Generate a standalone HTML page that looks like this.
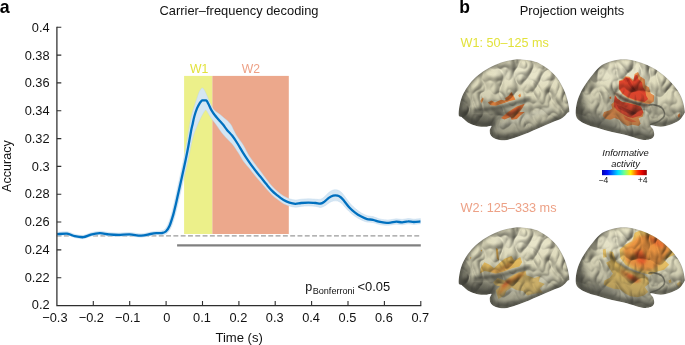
<!DOCTYPE html>
<html><head><meta charset="utf-8"><title>Carrier-frequency decoding</title>
<style>
html,body{margin:0;padding:0;background:#fff;}
svg{display:block;}
text{font-family:"Liberation Sans",Arial,Helvetica,sans-serif;fill:#121212;}
</style></head><body>
<svg width="685" height="345" viewBox="0 0 685 345">
<rect width="685" height="345" fill="#fff"/>

<defs>
<linearGradient id="jet" x1="0" x2="1" y1="0" y2="0">
<stop offset="0" stop-color="#0000b0"/><stop offset="0.12" stop-color="#0010ff"/><stop offset="0.36" stop-color="#00e0ff"/>
<stop offset="0.5" stop-color="#70ff90"/><stop offset="0.64" stop-color="#fff000"/><stop offset="0.8" stop-color="#ff3000"/>
<stop offset="0.9" stop-color="#e00000"/><stop offset="1" stop-color="#900000"/>
</linearGradient>
<filter id="b1" x="-20%" y="-20%" width="140%" height="140%"><feGaussianBlur stdDeviation="0.6"/></filter>
<filter id="b1s" x="-20%" y="-20%" width="140%" height="140%"><feGaussianBlur stdDeviation="1"/></filter>
<filter id="b2" x="-20%" y="-20%" width="140%" height="140%"><feGaussianBlur stdDeviation="1.5"/></filter>
<filter id="b3" x="-30%" y="-30%" width="160%" height="160%"><feGaussianBlur stdDeviation="3"/></filter>
<filter id="b5" x="-30%" y="-30%" width="160%" height="160%"><feGaussianBlur stdDeviation="5"/></filter>
<radialGradient id="gL" cx="0.52" cy="0.36" r="0.66" fx="0.55" fy="0.25">
<stop offset="0" stop-color="#d3d2bf"/><stop offset="0.5" stop-color="#c3c2af"/><stop offset="0.8" stop-color="#a9a897"/><stop offset="1" stop-color="#85857a"/>
</radialGradient>
<filter id="bump1" x="0" y="0" width="100%" height="100%" color-interpolation-filters="sRGB">
 <feTurbulence type="turbulence" baseFrequency="0.06 0.043" numOctaves="2" seed="2" result="n"/>
 <feGaussianBlur in="n" stdDeviation="0.7" result="rb"/>
 <feDiffuseLighting in="rb" surfaceScale="3.8" diffuseConstant="1.04" lighting-color="#ffffff" result="lit"><feDistantLight azimuth="245" elevation="62"/></feDiffuseLighting>
 <feComposite in="lit" in2="SourceGraphic" operator="in"/>
</filter>
<filter id="bump2" x="0" y="0" width="100%" height="100%" color-interpolation-filters="sRGB">
 <feTurbulence type="turbulence" baseFrequency="0.06 0.043" numOctaves="2" seed="9" result="n"/>
 <feGaussianBlur in="n" stdDeviation="0.7" result="rb"/>
 <feDiffuseLighting in="rb" surfaceScale="3.8" diffuseConstant="1.04" lighting-color="#ffffff" result="lit"><feDistantLight azimuth="245" elevation="62"/></feDiffuseLighting>
 <feComposite in="lit" in2="SourceGraphic" operator="in"/>
</filter>
<linearGradient id="gS" x1="0.62" y1="0" x2="0.4" y2="1">
<stop offset="0" stop-color="#4a4a44" stop-opacity="0"/><stop offset="0.4" stop-color="#4a4a44" stop-opacity="0.06"/><stop offset="0.72" stop-color="#4a4a44" stop-opacity="0.26"/><stop offset="1" stop-color="#3a3a34" stop-opacity="0.55"/>
</linearGradient>
<filter id="texD" x="0" y="0" width="100%" height="100%">
<feTurbulence type="fractalNoise" baseFrequency="0.11 0.08" numOctaves="2" seed="7" result="n"/>
<feColorMatrix in="n" type="matrix" values="0 0 0 0 0.36  0 0 0 0 0.36  0 0 0 0 0.31  -4.5 0 0 0 2.1"/>
<feGaussianBlur stdDeviation="0.5"/>
</filter>
<filter id="texL" x="0" y="0" width="100%" height="100%">
<feTurbulence type="fractalNoise" baseFrequency="0.11 0.08" numOctaves="2" seed="7" result="n"/>
<feColorMatrix in="n" type="matrix" values="0 0 0 0 0.90  0 0 0 0 0.89  0 0 0 0 0.80  4.5 0 0 0 -2.35"/>
<feGaussianBlur stdDeviation="0.5"/>
</filter>
</defs>

<g id="panel-a">
<rect x="184.1" y="75.9" width="28.4" height="158.1" fill="#ecf08a"/>
<rect x="212.4" y="75.9" width="76.4" height="158.1" fill="#eca88c"/>
<line x1="56.6" y1="235.9" x2="419.6" y2="235.9" stroke="#9a9a9a" stroke-width="1.4" stroke-dasharray="4.9 2.4"/>
<line x1="177.1" y1="245.4" x2="420.8" y2="245.4" stroke="#808080" stroke-width="2.2"/>
<path d="M57.2,232.3C58.9,232.2 64.2,231.4 67.1,231.7C70.0,232.0 72.0,233.6 74.7,234.2C77.4,234.8 80.5,235.5 83.2,235.3C85.9,235.1 88.0,233.5 90.8,232.8C93.5,232.1 96.7,231.4 99.7,231.3C102.7,231.2 105.7,232.2 108.8,232.5C111.9,232.8 114.8,233.0 118.3,233.0C121.8,233.0 125.9,232.4 129.7,232.5C133.5,232.6 137.6,233.9 141.1,233.8C144.6,233.7 148.1,232.5 150.6,232.1C153.1,231.7 154.6,231.5 156.3,231.3C158.0,231.1 159.6,231.2 161.0,230.9C162.4,230.6 163.6,230.5 164.8,229.3C166.0,228.1 167.2,226.2 168.3,223.5C169.4,220.8 170.6,217.0 171.6,213.4C172.6,209.8 173.4,205.9 174.4,201.8C175.4,197.7 176.4,193.0 177.3,188.7C178.2,184.3 179.2,180.0 180.1,175.7C181.0,171.3 182.0,166.9 182.9,162.6C183.8,158.2 184.7,153.7 185.5,149.6C186.3,145.5 186.9,141.6 187.5,138.0C188.1,134.4 188.7,130.8 189.2,128.0C189.7,125.2 189.9,123.5 190.4,121.0C190.9,118.5 191.5,115.7 192.3,112.8C193.1,109.9 194.1,106.9 195.2,103.6C196.3,100.3 197.8,95.5 198.7,93.1C199.6,90.7 200.2,90.2 200.8,89.3C201.4,88.4 201.7,88.0 202.2,87.9C202.7,87.9 203.1,88.4 203.6,89.0C204.1,89.6 204.5,90.1 205.1,91.4C205.7,92.7 206.5,94.6 207.4,96.6C208.3,98.6 209.3,101.6 210.3,103.6C211.3,105.6 212.2,107.4 213.2,108.8C214.2,110.2 214.9,110.7 216.1,111.7C217.2,112.7 218.6,113.4 220.1,114.6C221.6,115.8 223.2,117.2 224.8,118.6C226.4,119.9 228.3,121.5 229.4,122.7C230.5,123.9 230.4,123.6 231.5,125.6C232.6,127.5 234.0,131.2 235.9,134.4C237.8,137.6 241.0,141.4 243.2,144.9C245.4,148.4 247.0,152.5 249.0,155.7C251.0,158.8 253.1,161.4 255.0,164.0C256.9,166.6 258.6,168.7 260.5,171.2C262.4,173.7 264.4,176.6 266.3,179.0C268.2,181.5 270.0,183.9 271.9,186.0C273.8,188.1 275.8,189.8 277.7,191.5C279.6,193.2 281.7,194.9 283.6,196.1C285.6,197.3 287.4,198.1 289.4,198.8C291.3,199.4 293.4,199.9 295.3,200.0C297.2,200.1 298.9,199.4 301.1,199.2C303.3,199.0 306.0,198.8 308.4,198.8C310.8,198.8 313.6,199.1 315.7,199.2C317.8,199.3 319.3,199.6 320.8,199.2C322.3,198.8 323.2,197.8 324.5,196.7C325.8,195.5 327.4,193.6 328.8,192.5C330.2,191.4 331.7,190.4 333.2,190.0C334.7,189.6 336.2,189.6 337.6,190.0C339.0,190.4 340.3,191.3 341.5,192.4C342.7,193.5 343.3,194.5 344.8,196.5C346.3,198.4 348.7,201.9 350.6,204.0C352.5,206.1 354.2,207.6 356.0,209.1C357.8,210.6 359.4,211.8 361.3,212.9C363.2,214.0 365.2,215.0 367.1,215.7C369.1,216.3 371.1,216.1 373.0,216.6C374.9,217.1 376.9,218.1 378.8,218.7C380.7,219.2 382.7,219.6 384.6,219.8C386.6,220.0 388.6,219.9 390.5,219.7C392.4,219.6 394.4,218.9 396.3,218.8C398.2,218.8 400.2,219.5 402.2,219.4C404.1,219.4 406.1,218.6 408.0,218.6C409.9,218.5 411.7,219.2 413.8,219.2C415.9,219.2 419.3,218.7 420.4,218.6L420.4,223.8C419.3,223.9 415.9,224.4 413.8,224.4C411.7,224.4 409.9,223.8 408.0,223.8C406.1,223.9 404.1,224.7 402.2,224.8C400.2,224.8 398.2,224.1 396.3,224.2C394.4,224.2 392.4,224.9 390.5,225.1C388.6,225.3 386.6,225.3 384.6,225.2C382.7,225.1 380.7,224.8 378.8,224.3C376.9,223.9 374.9,222.9 373.0,222.6C371.1,222.2 369.1,222.6 367.1,222.1C365.2,221.7 363.4,220.9 361.3,219.9C359.2,218.9 356.7,217.6 354.6,216.1C352.5,214.6 350.6,212.9 348.6,211.0C346.6,209.1 344.2,206.0 342.8,204.5C341.4,203.1 341.4,203.1 340.5,202.5C339.6,201.9 338.8,201.3 337.6,201.0C336.4,200.8 334.6,200.7 333.2,201.0C331.8,201.3 330.7,201.9 329.3,202.7C327.9,203.5 326.4,205.0 325.0,205.8C323.6,206.6 322.4,207.3 320.8,207.4C319.2,207.5 317.8,206.6 315.7,206.4C313.6,206.2 310.8,206.0 308.4,206.0C306.0,206.0 303.3,206.2 301.1,206.4C298.9,206.6 297.2,207.3 295.3,207.2C293.4,207.1 291.3,206.6 289.4,206.0C287.4,205.4 285.6,204.8 283.6,203.7C281.7,202.6 279.6,201.0 277.7,199.5C275.8,198.0 273.9,196.6 272.0,194.9C270.1,193.1 268.4,191.1 266.5,189.0C264.6,186.9 262.8,184.6 260.9,182.4C259.0,180.3 257.2,178.2 255.3,175.9C253.4,173.7 251.6,171.0 249.7,168.7C247.8,166.4 245.9,164.6 244.0,162.0C242.1,159.4 240.3,155.8 238.5,153.0C236.7,150.2 234.7,147.0 233.0,144.9C231.3,142.8 230.3,142.1 228.6,140.3C226.9,138.5 224.4,136.1 222.8,134.1C221.2,132.1 220.0,130.3 218.8,128.6C217.6,126.9 216.6,125.4 215.5,123.8C214.4,122.2 213.2,120.8 212.0,119.2C210.8,117.6 209.4,115.3 208.6,114.0C207.8,112.7 207.5,112.0 207.0,111.3C206.5,110.6 206.1,109.9 205.7,109.9C205.3,109.9 205.0,110.5 204.4,111.4C203.8,112.3 203.0,113.5 202.2,115.1C201.3,116.7 200.1,119.2 199.3,120.9C198.5,122.6 198.4,122.8 197.5,125.0C196.6,127.2 194.9,131.2 194.0,134.0C193.1,136.8 192.6,138.7 191.8,142.0C191.0,145.3 190.3,149.5 189.4,153.6C188.5,157.7 187.5,162.2 186.5,166.6C185.5,170.9 184.5,175.3 183.5,179.7C182.5,184.0 181.5,188.3 180.5,192.7C179.5,197.0 178.5,201.7 177.5,205.8C176.5,209.9 175.6,213.8 174.5,217.4C173.4,221.0 172.2,224.9 171.0,227.5C169.8,230.1 168.4,232.0 167.0,233.2C165.6,234.4 164.4,234.4 162.6,234.7C160.8,234.9 158.3,234.6 156.3,234.7C154.3,234.8 153.1,235.1 150.6,235.5C148.1,235.9 144.6,237.1 141.1,237.2C137.6,237.3 133.5,236.0 129.7,235.9C125.9,235.8 121.8,236.4 118.3,236.4C114.8,236.4 111.9,236.2 108.8,235.9C105.7,235.6 102.7,234.6 99.7,234.7C96.7,234.8 93.5,235.5 90.8,236.2C88.0,236.9 85.9,238.5 83.2,238.7C80.5,238.9 77.4,238.2 74.7,237.6C72.0,237.0 70.0,235.4 67.1,235.1C64.2,234.8 58.9,235.6 57.2,235.7Z" fill="#d5e6f3" stroke="#b9d4ea" stroke-width="0.4"/>
<path d="M57.2,234.0C58.9,233.9 64.2,233.1 67.1,233.4C70.0,233.7 72.0,235.3 74.7,235.9C77.4,236.5 80.5,237.2 83.2,237.0C85.9,236.8 88.0,235.2 90.8,234.5C93.5,233.8 96.7,233.1 99.7,233.0C102.7,232.9 105.7,233.9 108.8,234.2C111.9,234.5 114.8,234.7 118.3,234.7C121.8,234.7 125.9,234.1 129.7,234.2C133.5,234.3 137.6,235.6 141.1,235.5C144.6,235.4 148.1,234.2 150.6,233.8C153.1,233.4 154.5,233.2 156.3,233.0C158.1,232.8 160.0,233.2 161.6,232.9C163.2,232.6 164.5,232.5 165.8,231.3C167.1,230.1 168.4,228.2 169.6,225.5C170.8,222.8 171.9,219.0 173.0,215.4C174.1,211.8 174.9,207.9 175.9,203.8C176.9,199.7 177.8,195.0 178.8,190.7C179.8,186.3 180.7,182.0 181.7,177.7C182.7,173.3 183.7,168.9 184.6,164.6C185.5,160.2 186.5,155.7 187.3,151.6C188.1,147.5 188.8,143.6 189.4,140.0C190.1,136.4 190.7,132.7 191.2,130.0C191.7,127.3 192.1,126.3 192.6,124.0C193.1,121.7 193.6,118.9 194.3,116.3C195.0,113.7 196.1,110.5 197.0,108.2C197.9,105.9 199.1,103.9 199.9,102.6C200.7,101.3 201.2,101.0 201.6,100.6C202.0,100.2 201.9,100.3 202.6,100.2C203.3,100.1 205.1,100.1 205.8,100.2C206.5,100.3 206.3,100.2 206.8,100.8C207.3,101.4 207.8,102.6 208.6,104.1C209.4,105.6 210.3,108.1 211.4,109.9C212.5,111.7 213.6,113.4 214.9,115.1C216.2,116.8 217.7,118.2 219.0,119.8C220.3,121.3 221.6,122.7 223.0,124.4C224.4,126.1 225.6,128.1 227.2,130.0C228.8,131.9 230.6,133.4 232.3,135.6C234.0,137.8 235.7,140.4 237.5,143.3C239.3,146.2 241.5,150.1 243.4,153.2C245.3,156.3 247.3,159.2 249.2,162.0C251.1,164.8 253.1,167.4 255.0,169.8C256.9,172.2 258.6,174.2 260.5,176.6C262.4,178.9 264.4,181.6 266.3,183.9C268.2,186.2 270.0,188.5 271.9,190.4C273.8,192.3 275.8,193.9 277.7,195.5C279.6,197.1 281.7,198.8 283.6,199.9C285.6,201.1 287.4,201.8 289.4,202.4C291.3,203.0 293.4,203.5 295.3,203.6C297.2,203.7 298.9,203.0 301.1,202.8C303.3,202.6 306.0,202.4 308.4,202.4C310.8,202.4 313.6,202.7 315.7,202.8C317.8,203.0 319.3,203.5 320.8,203.3C322.3,203.1 323.2,202.3 324.5,201.4C325.8,200.5 327.4,198.7 328.8,197.7C330.2,196.7 331.7,195.9 333.2,195.5C334.7,195.1 336.3,195.2 337.6,195.5C338.9,195.8 340.0,196.5 341.0,197.3C342.0,198.1 342.4,198.6 343.8,200.3C345.2,202.0 347.7,205.5 349.6,207.6C351.5,209.7 353.4,211.2 355.4,212.7C357.3,214.2 359.4,215.4 361.3,216.4C363.2,217.4 365.2,218.4 367.1,218.9C369.1,219.4 371.1,219.2 373.0,219.6C374.9,220.0 376.9,221.0 378.8,221.5C380.7,222.0 382.7,222.3 384.6,222.5C386.6,222.7 388.6,222.6 390.5,222.4C392.4,222.2 394.4,221.6 396.3,221.5C398.2,221.4 400.2,222.2 402.2,222.1C404.1,222.0 406.1,221.2 408.0,221.2C409.9,221.1 411.7,221.8 413.8,221.8C415.9,221.8 419.3,221.3 420.4,221.2" fill="none" stroke="#0070bf" stroke-width="2.3" transform="translate(0,0.2)" stroke-linejoin="round" stroke-linecap="butt"/>
<path d="M56.9,26.8 V305.5 H421.3" fill="none" stroke="#2e2e2e" stroke-width="1.25"/>
<path d="M56.9,27.3h4.4M56.9,55.1h4.4M56.9,82.9h4.4M56.9,110.8h4.4M56.9,138.6h4.4M56.9,166.4h4.4M56.9,194.2h4.4M56.9,222.0h4.4M56.9,249.9h4.4M56.9,277.7h4.4M93.3,305.5v-4.4M129.7,305.5v-4.4M166.1,305.5v-4.4M202.5,305.5v-4.4M238.9,305.5v-4.4M275.2,305.5v-4.4M311.6,305.5v-4.4M348.0,305.5v-4.4M384.4,305.5v-4.4M420.8,305.5v-4.4" fill="none" stroke="#2e2e2e" stroke-width="1.1"/>
<g font-size="12.8" text-anchor="end">
<text x="49.6" y="31.7">0.4</text>
<text x="49.6" y="59.5">0.38</text>
<text x="49.6" y="87.2">0.36</text>
<text x="49.6" y="115.0">0.34</text>
<text x="49.6" y="142.7">0.32</text>
<text x="49.6" y="170.5">0.3</text>
<text x="49.6" y="198.3">0.28</text>
<text x="49.6" y="226.0">0.26</text>
<text x="49.6" y="253.8">0.24</text>
<text x="49.6" y="281.5">0.22</text>
<text x="49.6" y="309.3">0.2</text>
</g>
<g font-size="12.8" text-anchor="middle">
<text x="54.9" y="321.9">−0.3</text>
<text x="91.3" y="321.9">−0.2</text>
<text x="127.7" y="321.9">−0.1</text>
<text x="166.7" y="321.9">0</text>
<text x="202.0" y="321.9">0.1</text>
<text x="238.4" y="321.9">0.2</text>
<text x="274.7" y="321.9">0.3</text>
<text x="311.1" y="321.9">0.4</text>
<text x="347.5" y="321.9">0.5</text>
<text x="383.9" y="321.9">0.6</text>
<text x="420.3" y="321.9">0.7</text>
</g>
<text x="239.15" y="341.5" font-size="13.1" text-anchor="middle">Time (s)</text>
<text transform="translate(10.8,166.1) rotate(-90)" font-size="12.6" text-anchor="middle">Accuracy</text>
<text x="239" y="14.8" font-size="12.9" text-anchor="middle">Carrier–frequency decoding</text>
<text x="-0.3" y="13.2" font-size="17.8" font-weight="bold" style="fill:#000">a</text>
<text x="199.2" y="72.8" font-size="12.2" text-anchor="middle" style="fill:#e2e23c">W1</text>
<text x="251.0" y="72.8" font-size="12.2" text-anchor="middle" style="fill:#eda186">W2</text>
<text x="305.3" y="291" font-size="12.6">p</text><text x="312.7" y="294.2" font-size="9.1">Bonferroni</text><text x="357.4" y="291" font-size="12.95">&lt;0.05</text>
</g>
<g id="panel-b">
<text x="459.2" y="13.2" font-size="17.5" font-weight="bold" style="fill:#000">b</text>
<text x="572" y="14.8" font-size="12.9" text-anchor="middle">Projection weights</text>
<text x="460.6" y="46.9" font-size="12.6" style="fill:#e2e23c">W1: 50–125 ms</text>
<text x="460.6" y="212.2" font-size="12.7" style="fill:#eda186">W2: 125–333 ms</text>
<rect x="602" y="170" width="44.8" height="5.2" fill="url(#jet)"/>
<text x="625.5" y="156.2" font-size="9.4" font-style="italic" text-anchor="middle">Informative</text>
<text x="625.5" y="167.2" font-size="9.4" font-style="italic" text-anchor="middle">activity</text>
<text x="598.6" y="182.9" font-size="8.6">−4</text>
<text x="647.5" y="182.9" font-size="8.6" text-anchor="end">+4</text>
<clipPath id="cp1"><path d="M458.7,114.9C458.4,112.7 459.1,107.6 459.9,104.0C460.7,100.5 461.8,96.9 463.4,93.5C465.0,90.2 467.0,87.0 469.5,83.9C472.0,80.8 475.1,77.8 478.3,75.1C481.5,72.5 485.0,70.3 488.8,68.1C492.6,66.0 497.0,63.8 501.0,62.4C505.1,61.0 509.8,60.2 513.3,59.7C516.8,59.2 519.1,59.2 522.1,59.4C525.0,59.5 527.9,59.9 530.8,60.6C533.7,61.3 536.6,62.0 539.6,63.4C542.5,64.8 545.4,66.6 548.3,69.0C551.2,71.4 554.5,74.3 557.1,77.8C559.7,81.3 562.3,86.2 564.1,90.0C565.8,93.8 566.7,97.0 567.6,100.5C568.5,104.0 569.3,109.0 569.3,111.0C569.3,113.1 568.8,111.6 567.6,112.8C566.4,113.9 565.0,116.4 562.3,118.0C559.7,119.6 555.6,120.8 551.8,122.4C548.0,124.0 543.9,125.8 539.6,127.7C535.2,129.6 529.9,132.0 525.6,133.8C521.2,135.5 516.8,137.1 513.3,138.2C509.8,139.2 507.5,140.1 504.5,140.3C501.6,140.4 498.1,139.8 495.8,139.0C493.5,138.2 491.9,137.0 490.9,135.5C489.9,134.1 489.6,131.9 489.7,130.3C489.7,128.7 492.1,126.5 491.4,125.9C490.7,125.3 487.8,126.8 485.3,126.8C482.8,126.8 479.4,126.6 476.5,125.9C473.6,125.2 470.2,123.9 467.8,122.4C465.3,120.9 463.2,118.4 461.6,117.1C460.1,115.9 458.9,117.1 458.7,114.9Z"/></clipPath>
<g clip-path="url(#cp1)" style="isolation:isolate">
<path d="M458.7,114.9C458.4,112.7 459.1,107.6 459.9,104.0C460.7,100.5 461.8,96.9 463.4,93.5C465.0,90.2 467.0,87.0 469.5,83.9C472.0,80.8 475.1,77.8 478.3,75.1C481.5,72.5 485.0,70.3 488.8,68.1C492.6,66.0 497.0,63.8 501.0,62.4C505.1,61.0 509.8,60.2 513.3,59.7C516.8,59.2 519.1,59.2 522.1,59.4C525.0,59.5 527.9,59.9 530.8,60.6C533.7,61.3 536.6,62.0 539.6,63.4C542.5,64.8 545.4,66.6 548.3,69.0C551.2,71.4 554.5,74.3 557.1,77.8C559.7,81.3 562.3,86.2 564.1,90.0C565.8,93.8 566.7,97.0 567.6,100.5C568.5,104.0 569.3,109.0 569.3,111.0C569.3,113.1 568.8,111.6 567.6,112.8C566.4,113.9 565.0,116.4 562.3,118.0C559.7,119.6 555.6,120.8 551.8,122.4C548.0,124.0 543.9,125.8 539.6,127.7C535.2,129.6 529.9,132.0 525.6,133.8C521.2,135.5 516.8,137.1 513.3,138.2C509.8,139.2 507.5,140.1 504.5,140.3C501.6,140.4 498.1,139.8 495.8,139.0C493.5,138.2 491.9,137.0 490.9,135.5C489.9,134.1 489.6,131.9 489.7,130.3C489.7,128.7 492.1,126.5 491.4,125.9C490.7,125.3 487.8,126.8 485.3,126.8C482.8,126.8 479.4,126.6 476.5,125.9C473.6,125.2 470.2,123.9 467.8,122.4C465.3,120.9 463.2,118.4 461.6,117.1C460.1,115.9 458.9,117.1 458.7,114.9Z" fill="#e6e2c3"/>
<path d="M474.8,110.3C475.9,110.3 479.3,110.2 481.8,110.0C484.3,109.7 486.9,109.3 489.7,108.9C492.4,108.6 495.3,108.4 498.4,107.9C501.5,107.3 504.7,106.4 508.0,105.4C511.4,104.4 515.0,103.0 518.5,101.9C522.1,100.9 527.3,99.6 529.1,99.1" fill="none" stroke="#4a4a40" stroke-width="4.2" opacity="0.72" stroke-linecap="round" filter="url(#b2)"/>
<path d="M462.5,116.3C464.0,117.1 468.1,119.9 471.3,121.2C474.5,122.5 478.4,123.5 481.8,124.2C485.1,124.8 489.1,125.8 491.4,125.0C493.7,124.3 493.6,121.5 495.8,119.8C498.0,118.0 503.1,115.4 504.5,114.5" fill="none" stroke="#5f5f54" stroke-width="3.5" opacity="0.55" stroke-linecap="round" filter="url(#b2)"/>
<ellipse cx="478.0" cy="120.0" rx="19.0" ry="7.0" fill="#4a4a40" opacity="0.70" filter="url(#b3)" transform="rotate(8 478.0 120.0)"/>
<ellipse cx="462.0" cy="106.0" rx="6.0" ry="16.0" fill="#4a4a40" opacity="0.55" filter="url(#b3)" transform="rotate(0 462.0 106.0)"/>
<ellipse cx="522.0" cy="74.0" rx="32.0" ry="9.0" fill="#f4f2dc" opacity="0.45" filter="url(#b5)" transform="rotate(8 522.0 74.0)"/>
<ellipse cx="560.0" cy="119.0" rx="11.0" ry="5.0" fill="#4f4f45" opacity="0.35" filter="url(#b3)" transform="rotate(-25 560.0 119.0)"/>
<ellipse cx="500.0" cy="112.0" rx="22.0" ry="4.0" fill="#4f4f45" opacity="0.35" filter="url(#b3)" transform="rotate(-12 500.0 112.0)"/>
<path d="M460.8,100.5C460.7,102.0 459.8,106.6 460.4,109.3C461.0,111.9 463.6,115.1 464.3,116.3" fill="none" stroke="#5f5f54" stroke-width="6.0" opacity="0.35" stroke-linecap="round" filter="url(#b3)"/>
<path d="M494.0,129.4C495.8,128.7 500.5,126.6 504.5,125.0C508.6,123.4 513.6,121.7 518.5,119.8C523.5,117.9 529.1,115.4 534.3,113.6C539.6,111.9 547.4,110.0 550.1,109.3" fill="none" stroke="#e4e3cf" stroke-width="5.0" opacity="0.45" stroke-linecap="round" filter="url(#b2)"/>
<path d="M491.4,135.9C492.4,136.6 494.8,139.2 497.5,139.9C500.3,140.6 503.4,140.8 508.0,139.9C512.7,139.0 519.7,136.8 525.6,134.7C531.4,132.5 537.2,129.6 543.1,127.1C548.9,124.6 557.7,121.0 560.6,119.8" fill="none" stroke="#5f5f54" stroke-width="4.0" opacity="0.50" stroke-linecap="round" filter="url(#b2)"/>
<path d="M487.9,102.6L491.4,100.5L494.9,102.6L501.0,99.7L504.5,100.5L508.0,97.0L511.5,92.1L514.2,97.0L515.4,99.7L509.8,100.9L502.8,103.5L495.8,105.8L490.5,105.3Z" fill="#f6883a" opacity="1.00" filter="url(#b1)"/>
<path d="M480.5,100.9L482.6,97.6L483.7,98.8L481.8,103.2Z" fill="#f39445" opacity="1.00" filter="url(#b1)"/>
<path d="M518.2,95.6L520.3,93.5L521.0,96.3L519.3,97.4Z" fill="#f39445" opacity="1.00" filter="url(#b1)"/>
<path d="M504.5,98.4L508.0,96.3L511.5,92.8L513.3,97.0L509.8,99.7Z" fill="#f87a30" opacity="0.90" filter="url(#b1)"/>
<path d="M501.0,118.0L508.0,111.9L516.8,106.6L524.7,103.7L522.1,108.4L519.4,111.9L524.7,111.9L520.3,115.4L516.8,118.9L511.5,119.8L510.7,117.1L504.5,119.4Z" fill="#f67a32" opacity="1.00" filter="url(#b1)"/>
<path d="M504.5,116.3L513.3,109.6L521.2,106.1L517.7,111.0L509.8,116.3Z" fill="#f05c2e" opacity="0.80" filter="url(#b1)"/>
<path d="M458.7,114.9C458.4,112.7 459.1,107.6 459.9,104.0C460.7,100.5 461.8,96.9 463.4,93.5C465.0,90.2 467.0,87.0 469.5,83.9C472.0,80.8 475.1,77.8 478.3,75.1C481.5,72.5 485.0,70.3 488.8,68.1C492.6,66.0 497.0,63.8 501.0,62.4C505.1,61.0 509.8,60.2 513.3,59.7C516.8,59.2 519.1,59.2 522.1,59.4C525.0,59.5 527.9,59.9 530.8,60.6C533.7,61.3 536.6,62.0 539.6,63.4C542.5,64.8 545.4,66.6 548.3,69.0C551.2,71.4 554.5,74.3 557.1,77.8C559.7,81.3 562.3,86.2 564.1,90.0C565.8,93.8 566.7,97.0 567.6,100.5C568.5,104.0 569.3,109.0 569.3,111.0C569.3,113.1 568.8,111.6 567.6,112.8C566.4,113.9 565.0,116.4 562.3,118.0C559.7,119.6 555.6,120.8 551.8,122.4C548.0,124.0 543.9,125.8 539.6,127.7C535.2,129.6 529.9,132.0 525.6,133.8C521.2,135.5 516.8,137.1 513.3,138.2C509.8,139.2 507.5,140.1 504.5,140.3C501.6,140.4 498.1,139.8 495.8,139.0C493.5,138.2 491.9,137.0 490.9,135.5C489.9,134.1 489.6,131.9 489.7,130.3C489.7,128.7 492.1,126.5 491.4,125.9C490.7,125.3 487.8,126.8 485.3,126.8C482.8,126.8 479.4,126.6 476.5,125.9C473.6,125.2 470.2,123.9 467.8,122.4C465.3,120.9 463.2,118.4 461.6,117.1C460.1,115.9 458.9,117.1 458.7,114.9Z" fill="#000" filter="url(#bump1)" style="mix-blend-mode:multiply"/>
<path d="M458.7,114.9C458.4,112.7 459.1,107.6 459.9,104.0C460.7,100.5 461.8,96.9 463.4,93.5C465.0,90.2 467.0,87.0 469.5,83.9C472.0,80.8 475.1,77.8 478.3,75.1C481.5,72.5 485.0,70.3 488.8,68.1C492.6,66.0 497.0,63.8 501.0,62.4C505.1,61.0 509.8,60.2 513.3,59.7C516.8,59.2 519.1,59.2 522.1,59.4C525.0,59.5 527.9,59.9 530.8,60.6C533.7,61.3 536.6,62.0 539.6,63.4C542.5,64.8 545.4,66.6 548.3,69.0C551.2,71.4 554.5,74.3 557.1,77.8C559.7,81.3 562.3,86.2 564.1,90.0C565.8,93.8 566.7,97.0 567.6,100.5C568.5,104.0 569.3,109.0 569.3,111.0C569.3,113.1 568.8,111.6 567.6,112.8C566.4,113.9 565.0,116.4 562.3,118.0C559.7,119.6 555.6,120.8 551.8,122.4C548.0,124.0 543.9,125.8 539.6,127.7C535.2,129.6 529.9,132.0 525.6,133.8C521.2,135.5 516.8,137.1 513.3,138.2C509.8,139.2 507.5,140.1 504.5,140.3C501.6,140.4 498.1,139.8 495.8,139.0C493.5,138.2 491.9,137.0 490.9,135.5C489.9,134.1 489.6,131.9 489.7,130.3C489.7,128.7 492.1,126.5 491.4,125.9C490.7,125.3 487.8,126.8 485.3,126.8C482.8,126.8 479.4,126.6 476.5,125.9C473.6,125.2 470.2,123.9 467.8,122.4C465.3,120.9 463.2,118.4 461.6,117.1C460.1,115.9 458.9,117.1 458.7,114.9Z" fill="url(#gS)"/>
<path d="M458.7,114.9C458.4,112.7 459.1,107.6 459.9,104.0C460.7,100.5 461.8,96.9 463.4,93.5C465.0,90.2 467.0,87.0 469.5,83.9C472.0,80.8 475.1,77.8 478.3,75.1C481.5,72.5 485.0,70.3 488.8,68.1C492.6,66.0 497.0,63.8 501.0,62.4C505.1,61.0 509.8,60.2 513.3,59.7C516.8,59.2 519.1,59.2 522.1,59.4C525.0,59.5 527.9,59.9 530.8,60.6C533.7,61.3 536.6,62.0 539.6,63.4C542.5,64.8 545.4,66.6 548.3,69.0C551.2,71.4 554.5,74.3 557.1,77.8C559.7,81.3 562.3,86.2 564.1,90.0C565.8,93.8 566.7,97.0 567.6,100.5C568.5,104.0 569.3,109.0 569.3,111.0C569.3,113.1 568.8,111.6 567.6,112.8C566.4,113.9 565.0,116.4 562.3,118.0C559.7,119.6 555.6,120.8 551.8,122.4C548.0,124.0 543.9,125.8 539.6,127.7C535.2,129.6 529.9,132.0 525.6,133.8C521.2,135.5 516.8,137.1 513.3,138.2C509.8,139.2 507.5,140.1 504.5,140.3C501.6,140.4 498.1,139.8 495.8,139.0C493.5,138.2 491.9,137.0 490.9,135.5C489.9,134.1 489.6,131.9 489.7,130.3C489.7,128.7 492.1,126.5 491.4,125.9C490.7,125.3 487.8,126.8 485.3,126.8C482.8,126.8 479.4,126.6 476.5,125.9C473.6,125.2 470.2,123.9 467.8,122.4C465.3,120.9 463.2,118.4 461.6,117.1C460.1,115.9 458.9,117.1 458.7,114.9Z" fill="none" stroke="#45453c" stroke-width="4.5" opacity="0.65" filter="url(#b2)" transform="translate(1.4,-2.4)"/>
</g>
<clipPath id="cp2"><path d="M576.7,103.8C577.4,100.2 578.5,97.0 580.1,93.7C581.6,90.3 583.7,86.9 586.0,83.6C588.2,80.2 590.9,76.6 593.5,73.5C596.2,70.4 598.9,67.2 601.9,65.1C605.0,63.0 608.4,61.9 612.0,60.9C615.7,59.9 619.9,59.2 623.8,59.2C627.7,59.2 631.6,59.9 635.6,60.9C639.5,61.9 643.4,63.3 647.3,65.1C651.3,66.9 655.5,69.3 659.1,71.8C662.7,74.3 666.1,77.1 669.2,80.2C672.3,83.3 675.4,86.9 677.6,90.3C679.8,93.7 681.5,97.0 682.6,100.4C683.8,103.8 684.4,108.3 684.7,110.5C684.9,112.7 685.2,111.9 684.3,113.5C683.4,115.2 681.5,118.4 679.3,120.3C677.0,122.1 674.0,123.4 670.9,124.5C667.8,125.5 664.1,126.5 660.8,126.7C657.4,126.8 652.0,124.8 650.7,125.3C649.4,125.8 652.7,127.8 653.2,129.5C653.8,131.2 654.5,133.8 654.1,135.4C653.6,137.0 652.4,138.3 650.7,139.1C649.0,139.8 646.5,140.1 644.0,139.9C641.5,139.7 638.9,138.8 635.6,137.9C632.2,137.0 627.7,135.5 623.8,134.6C619.9,133.6 616.0,133.0 612.0,132.0C608.1,131.1 604.2,129.8 600.3,128.7C596.3,127.5 591.9,126.6 588.5,125.3C585.1,124.0 582.2,122.8 580.1,121.1C578.0,119.4 576.4,118.1 575.9,115.2C575.3,112.3 576.0,107.3 576.7,103.8Z"/></clipPath>
<g clip-path="url(#cp2)" style="isolation:isolate">
<path d="M576.7,103.8C577.4,100.2 578.5,97.0 580.1,93.7C581.6,90.3 583.7,86.9 586.0,83.6C588.2,80.2 590.9,76.6 593.5,73.5C596.2,70.4 598.9,67.2 601.9,65.1C605.0,63.0 608.4,61.9 612.0,60.9C615.7,59.9 619.9,59.2 623.8,59.2C627.7,59.2 631.6,59.9 635.6,60.9C639.5,61.9 643.4,63.3 647.3,65.1C651.3,66.9 655.5,69.3 659.1,71.8C662.7,74.3 666.1,77.1 669.2,80.2C672.3,83.3 675.4,86.9 677.6,90.3C679.8,93.7 681.5,97.0 682.6,100.4C683.8,103.8 684.4,108.3 684.7,110.5C684.9,112.7 685.2,111.9 684.3,113.5C683.4,115.2 681.5,118.4 679.3,120.3C677.0,122.1 674.0,123.4 670.9,124.5C667.8,125.5 664.1,126.5 660.8,126.7C657.4,126.8 652.0,124.8 650.7,125.3C649.4,125.8 652.7,127.8 653.2,129.5C653.8,131.2 654.5,133.8 654.1,135.4C653.6,137.0 652.4,138.3 650.7,139.1C649.0,139.8 646.5,140.1 644.0,139.9C641.5,139.7 638.9,138.8 635.6,137.9C632.2,137.0 627.7,135.5 623.8,134.6C619.9,133.6 616.0,133.0 612.0,132.0C608.1,131.1 604.2,129.8 600.3,128.7C596.3,127.5 591.9,126.6 588.5,125.3C585.1,124.0 582.2,122.8 580.1,121.1C578.0,119.4 576.4,118.1 575.9,115.2C575.3,112.3 576.0,107.3 576.7,103.8Z" fill="#e6e2c3"/>
<path d="M620.4,96.7C622.1,97.7 626.9,101.1 630.5,102.6C634.2,104.2 640.3,105.4 642.3,106.0" fill="none" stroke="#5f5f54" stroke-width="3.0" opacity="0.50" stroke-linecap="round" filter="url(#b2)"/>
<path d="M590.2,118.6C593.0,119.4 601.4,122.1 607.0,123.6C612.6,125.2 618.2,126.4 623.8,127.8C629.4,129.2 636.4,131.2 640.6,132.0C644.8,132.9 647.6,132.7 649.0,132.9" fill="none" stroke="#e4e3cf" stroke-width="5.0" opacity="0.45" stroke-linecap="round" filter="url(#b2)"/>
<path d="M580.1,121.9C582.6,122.9 589.6,126.0 595.2,127.8C600.8,129.6 607.3,131.2 613.7,132.9C620.2,134.6 628.3,136.8 633.9,137.9C639.5,139.0 645.1,139.3 647.3,139.6" fill="none" stroke="#5f5f54" stroke-width="4.0" opacity="0.50" stroke-linecap="round" filter="url(#b2)"/>
<ellipse cx="580.0" cy="108.0" rx="6.0" ry="15.0" fill="#4a4a40" opacity="0.55" filter="url(#b3)" transform="rotate(0 580.0 108.0)"/>
<ellipse cx="625.0" cy="73.0" rx="32.0" ry="9.0" fill="#f4f2dc" opacity="0.45" filter="url(#b5)" transform="rotate(-5 625.0 73.0)"/>
<ellipse cx="668.0" cy="122.0" rx="13.0" ry="4.0" fill="#4f4f45" opacity="0.40" filter="url(#b3)" transform="rotate(-12 668.0 122.0)"/>
<ellipse cx="598.0" cy="121.0" rx="20.0" ry="6.0" fill="#4a4a40" opacity="0.55" filter="url(#b3)" transform="rotate(15 598.0 121.0)"/>
<path d="M576.7,100.1C576.7,101.8 576.0,107.1 576.7,110.2C577.4,113.3 580.2,117.2 580.9,118.6" fill="none" stroke="#5f5f54" stroke-width="6.0" opacity="0.30" stroke-linecap="round" filter="url(#b3)"/>
<path d="M615.3,93.4C616.6,94.3 620.4,97.1 623.4,98.7C626.4,100.2 630.3,101.7 633.5,102.7C636.8,103.8 640.2,104.6 642.7,105.0C645.1,105.3 647.2,105.0 648.1,105.0" fill="none" stroke="#4e3428" stroke-width="3.0" opacity="0.85" stroke-linecap="round" filter="url(#b1s)"/>
<path d="M618.9,80.8L622.4,79.6L625.4,76.2L629.5,76.8L633.5,80.2L634.6,74.1L638.0,72.1L640.0,76.2L644.7,79.2L645.3,85.3L648.8,87.3L650.8,93.4L654.2,95.4L653.8,101.5L649.8,103.9L645.7,103.5L640.6,102.3L634.6,100.7L627.5,97.9L622.4,94.2L618.7,88.9Z" fill="#f0904a" opacity="0.95" filter="url(#b1)"/>
<path d="M619.3,81.2L622.6,80.4L625.8,77.2L629.5,78.0L633.1,81.6L634.8,75.5L637.2,74.7L638.4,79.2L642.1,82.2L642.9,87.3L645.3,90.4L646.1,95.4L648.1,99.1L644.7,101.9L640.0,101.1L634.6,99.7L627.5,97.0L622.6,93.4L619.1,88.5Z" fill="#e8402a" opacity="0.95" filter="url(#b1)"/>
<path d="M625.4,77.6L628.5,78.4L632.5,85.3L635.6,90.4L632.5,89.3L628.5,84.3Z" fill="#b0281c" opacity="0.70" filter="url(#b1)"/>
<path d="M614.9,95.0L617.3,98.5L621.4,101.5L627.5,102.5L635.6,104.6L640.6,106.6L643.7,112.7L642.7,116.7L638.6,118.1L640.6,123.8L638.6,125.9L632.5,124.8L627.5,125.9L623.4,123.8L619.3,119.8L614.3,118.1L610.2,119.8L605.1,118.8L602.7,115.7L604.1,112.1L609.2,110.6L612.2,108.6L611.2,104.6L614.3,101.5Z" fill="#ee8a40" opacity="0.95" filter="url(#b1)"/>
<path d="M614.9,95.4L617.7,99.1L622.2,102.1L628.5,103.3L635.6,105.0L640.8,106.6L643.3,112.1L641.2,115.7L636.6,116.7L632.5,118.1L627.5,116.7L622.4,113.7L617.3,110.6L613.7,106.6L614.1,101.9Z" fill="#e63c26" opacity="0.95" filter="url(#b1)"/>
<path d="M616.3,104.6L621.4,106.6L629.5,110.0L636.6,113.3L633.5,114.7L625.4,112.1L618.3,108.6Z" fill="#a8261a" opacity="0.70" filter="url(#b1)"/>
<path d="M623.4,115.7L630.5,118.8L636.6,121.8L631.5,122.2L625.4,119.4Z" fill="#ec5a2a" opacity="0.85" filter="url(#b1)"/>
<path d="M677.6,115.2L679.6,113.2L680.6,116.9L678.4,117.7Z" fill="#ea7a30" opacity="1.00" filter="url(#b1)"/>
<path d="M609.6,97.0L611.2,96.6L611.2,98.7L609.8,98.7Z" fill="#ea7a30" opacity="1.00" filter="url(#b1)"/>
<path d="M650.7,124.5C652.1,123.9 656.8,122.6 659.1,121.1C661.4,119.6 664.1,117.5 664.5,115.2C664.9,113.0 663.4,109.4 661.6,107.7C659.9,105.9 656.2,105.2 654.1,104.8C652.0,104.4 649.9,105.1 649.0,105.1" fill="none" stroke="#4a4a40" stroke-width="1.7" opacity="0.60" stroke-linecap="round" filter="url(#b1)"/>
<path d="M576.7,103.8C577.4,100.2 578.5,97.0 580.1,93.7C581.6,90.3 583.7,86.9 586.0,83.6C588.2,80.2 590.9,76.6 593.5,73.5C596.2,70.4 598.9,67.2 601.9,65.1C605.0,63.0 608.4,61.9 612.0,60.9C615.7,59.9 619.9,59.2 623.8,59.2C627.7,59.2 631.6,59.9 635.6,60.9C639.5,61.9 643.4,63.3 647.3,65.1C651.3,66.9 655.5,69.3 659.1,71.8C662.7,74.3 666.1,77.1 669.2,80.2C672.3,83.3 675.4,86.9 677.6,90.3C679.8,93.7 681.5,97.0 682.6,100.4C683.8,103.8 684.4,108.3 684.7,110.5C684.9,112.7 685.2,111.9 684.3,113.5C683.4,115.2 681.5,118.4 679.3,120.3C677.0,122.1 674.0,123.4 670.9,124.5C667.8,125.5 664.1,126.5 660.8,126.7C657.4,126.8 652.0,124.8 650.7,125.3C649.4,125.8 652.7,127.8 653.2,129.5C653.8,131.2 654.5,133.8 654.1,135.4C653.6,137.0 652.4,138.3 650.7,139.1C649.0,139.8 646.5,140.1 644.0,139.9C641.5,139.7 638.9,138.8 635.6,137.9C632.2,137.0 627.7,135.5 623.8,134.6C619.9,133.6 616.0,133.0 612.0,132.0C608.1,131.1 604.2,129.8 600.3,128.7C596.3,127.5 591.9,126.6 588.5,125.3C585.1,124.0 582.2,122.8 580.1,121.1C578.0,119.4 576.4,118.1 575.9,115.2C575.3,112.3 576.0,107.3 576.7,103.8Z" fill="#000" filter="url(#bump2)" style="mix-blend-mode:multiply"/>
<path d="M576.7,103.8C577.4,100.2 578.5,97.0 580.1,93.7C581.6,90.3 583.7,86.9 586.0,83.6C588.2,80.2 590.9,76.6 593.5,73.5C596.2,70.4 598.9,67.2 601.9,65.1C605.0,63.0 608.4,61.9 612.0,60.9C615.7,59.9 619.9,59.2 623.8,59.2C627.7,59.2 631.6,59.9 635.6,60.9C639.5,61.9 643.4,63.3 647.3,65.1C651.3,66.9 655.5,69.3 659.1,71.8C662.7,74.3 666.1,77.1 669.2,80.2C672.3,83.3 675.4,86.9 677.6,90.3C679.8,93.7 681.5,97.0 682.6,100.4C683.8,103.8 684.4,108.3 684.7,110.5C684.9,112.7 685.2,111.9 684.3,113.5C683.4,115.2 681.5,118.4 679.3,120.3C677.0,122.1 674.0,123.4 670.9,124.5C667.8,125.5 664.1,126.5 660.8,126.7C657.4,126.8 652.0,124.8 650.7,125.3C649.4,125.8 652.7,127.8 653.2,129.5C653.8,131.2 654.5,133.8 654.1,135.4C653.6,137.0 652.4,138.3 650.7,139.1C649.0,139.8 646.5,140.1 644.0,139.9C641.5,139.7 638.9,138.8 635.6,137.9C632.2,137.0 627.7,135.5 623.8,134.6C619.9,133.6 616.0,133.0 612.0,132.0C608.1,131.1 604.2,129.8 600.3,128.7C596.3,127.5 591.9,126.6 588.5,125.3C585.1,124.0 582.2,122.8 580.1,121.1C578.0,119.4 576.4,118.1 575.9,115.2C575.3,112.3 576.0,107.3 576.7,103.8Z" fill="url(#gS)"/>
<path d="M576.7,103.8C577.4,100.2 578.5,97.0 580.1,93.7C581.6,90.3 583.7,86.9 586.0,83.6C588.2,80.2 590.9,76.6 593.5,73.5C596.2,70.4 598.9,67.2 601.9,65.1C605.0,63.0 608.4,61.9 612.0,60.9C615.7,59.9 619.9,59.2 623.8,59.2C627.7,59.2 631.6,59.9 635.6,60.9C639.5,61.9 643.4,63.3 647.3,65.1C651.3,66.9 655.5,69.3 659.1,71.8C662.7,74.3 666.1,77.1 669.2,80.2C672.3,83.3 675.4,86.9 677.6,90.3C679.8,93.7 681.5,97.0 682.6,100.4C683.8,103.8 684.4,108.3 684.7,110.5C684.9,112.7 685.2,111.9 684.3,113.5C683.4,115.2 681.5,118.4 679.3,120.3C677.0,122.1 674.0,123.4 670.9,124.5C667.8,125.5 664.1,126.5 660.8,126.7C657.4,126.8 652.0,124.8 650.7,125.3C649.4,125.8 652.7,127.8 653.2,129.5C653.8,131.2 654.5,133.8 654.1,135.4C653.6,137.0 652.4,138.3 650.7,139.1C649.0,139.8 646.5,140.1 644.0,139.9C641.5,139.7 638.9,138.8 635.6,137.9C632.2,137.0 627.7,135.5 623.8,134.6C619.9,133.6 616.0,133.0 612.0,132.0C608.1,131.1 604.2,129.8 600.3,128.7C596.3,127.5 591.9,126.6 588.5,125.3C585.1,124.0 582.2,122.8 580.1,121.1C578.0,119.4 576.4,118.1 575.9,115.2C575.3,112.3 576.0,107.3 576.7,103.8Z" fill="none" stroke="#45453c" stroke-width="4.5" opacity="0.65" filter="url(#b2)" transform="translate(1.4,-2.4)"/>
</g>
<g transform="translate(0,168)">
<clipPath id="cp3"><path d="M458.7,114.9C458.4,112.7 459.1,107.6 459.9,104.0C460.7,100.5 461.8,96.9 463.4,93.5C465.0,90.2 467.0,87.0 469.5,83.9C472.0,80.8 475.1,77.8 478.3,75.1C481.5,72.5 485.0,70.3 488.8,68.1C492.6,66.0 497.0,63.8 501.0,62.4C505.1,61.0 509.8,60.2 513.3,59.7C516.8,59.2 519.1,59.2 522.1,59.4C525.0,59.5 527.9,59.9 530.8,60.6C533.7,61.3 536.6,62.0 539.6,63.4C542.5,64.8 545.4,66.6 548.3,69.0C551.2,71.4 554.5,74.3 557.1,77.8C559.7,81.3 562.3,86.2 564.1,90.0C565.8,93.8 566.7,97.0 567.6,100.5C568.5,104.0 569.3,109.0 569.3,111.0C569.3,113.1 568.8,111.6 567.6,112.8C566.4,113.9 565.0,116.4 562.3,118.0C559.7,119.6 555.6,120.8 551.8,122.4C548.0,124.0 543.9,125.8 539.6,127.7C535.2,129.6 529.9,132.0 525.6,133.8C521.2,135.5 516.8,137.1 513.3,138.2C509.8,139.2 507.5,140.1 504.5,140.3C501.6,140.4 498.1,139.8 495.8,139.0C493.5,138.2 491.9,137.0 490.9,135.5C489.9,134.1 489.6,131.9 489.7,130.3C489.7,128.7 492.1,126.5 491.4,125.9C490.7,125.3 487.8,126.8 485.3,126.8C482.8,126.8 479.4,126.6 476.5,125.9C473.6,125.2 470.2,123.9 467.8,122.4C465.3,120.9 463.2,118.4 461.6,117.1C460.1,115.9 458.9,117.1 458.7,114.9Z"/></clipPath>
<g clip-path="url(#cp3)" style="isolation:isolate">
<path d="M458.7,114.9C458.4,112.7 459.1,107.6 459.9,104.0C460.7,100.5 461.8,96.9 463.4,93.5C465.0,90.2 467.0,87.0 469.5,83.9C472.0,80.8 475.1,77.8 478.3,75.1C481.5,72.5 485.0,70.3 488.8,68.1C492.6,66.0 497.0,63.8 501.0,62.4C505.1,61.0 509.8,60.2 513.3,59.7C516.8,59.2 519.1,59.2 522.1,59.4C525.0,59.5 527.9,59.9 530.8,60.6C533.7,61.3 536.6,62.0 539.6,63.4C542.5,64.8 545.4,66.6 548.3,69.0C551.2,71.4 554.5,74.3 557.1,77.8C559.7,81.3 562.3,86.2 564.1,90.0C565.8,93.8 566.7,97.0 567.6,100.5C568.5,104.0 569.3,109.0 569.3,111.0C569.3,113.1 568.8,111.6 567.6,112.8C566.4,113.9 565.0,116.4 562.3,118.0C559.7,119.6 555.6,120.8 551.8,122.4C548.0,124.0 543.9,125.8 539.6,127.7C535.2,129.6 529.9,132.0 525.6,133.8C521.2,135.5 516.8,137.1 513.3,138.2C509.8,139.2 507.5,140.1 504.5,140.3C501.6,140.4 498.1,139.8 495.8,139.0C493.5,138.2 491.9,137.0 490.9,135.5C489.9,134.1 489.6,131.9 489.7,130.3C489.7,128.7 492.1,126.5 491.4,125.9C490.7,125.3 487.8,126.8 485.3,126.8C482.8,126.8 479.4,126.6 476.5,125.9C473.6,125.2 470.2,123.9 467.8,122.4C465.3,120.9 463.2,118.4 461.6,117.1C460.1,115.9 458.9,117.1 458.7,114.9Z" fill="#e6e2c3"/>
<path d="M474.8,110.3C475.9,110.3 479.3,110.2 481.8,110.0C484.3,109.7 486.9,109.3 489.7,108.9C492.4,108.6 495.3,108.4 498.4,107.9C501.5,107.3 504.7,106.4 508.0,105.4C511.4,104.4 515.0,103.0 518.5,101.9C522.1,100.9 527.3,99.6 529.1,99.1" fill="none" stroke="#4a4a40" stroke-width="4.2" opacity="0.72" stroke-linecap="round" filter="url(#b2)"/>
<path d="M462.5,116.3C464.0,117.1 468.1,119.9 471.3,121.2C474.5,122.5 478.4,123.5 481.8,124.2C485.1,124.8 489.1,125.8 491.4,125.0C493.7,124.3 493.6,121.5 495.8,119.8C498.0,118.0 503.1,115.4 504.5,114.5" fill="none" stroke="#5f5f54" stroke-width="3.5" opacity="0.55" stroke-linecap="round" filter="url(#b2)"/>
<ellipse cx="478.0" cy="120.0" rx="19.0" ry="7.0" fill="#4a4a40" opacity="0.70" filter="url(#b3)" transform="rotate(8 478.0 120.0)"/>
<ellipse cx="462.0" cy="106.0" rx="6.0" ry="16.0" fill="#4a4a40" opacity="0.55" filter="url(#b3)" transform="rotate(0 462.0 106.0)"/>
<ellipse cx="522.0" cy="74.0" rx="32.0" ry="9.0" fill="#f4f2dc" opacity="0.45" filter="url(#b5)" transform="rotate(8 522.0 74.0)"/>
<ellipse cx="560.0" cy="119.0" rx="11.0" ry="5.0" fill="#4f4f45" opacity="0.35" filter="url(#b3)" transform="rotate(-25 560.0 119.0)"/>
<ellipse cx="500.0" cy="112.0" rx="22.0" ry="4.0" fill="#4f4f45" opacity="0.35" filter="url(#b3)" transform="rotate(-12 500.0 112.0)"/>
<path d="M460.8,100.5C460.7,102.0 459.8,106.6 460.4,109.3C461.0,111.9 463.6,115.1 464.3,116.3" fill="none" stroke="#5f5f54" stroke-width="6.0" opacity="0.35" stroke-linecap="round" filter="url(#b3)"/>
<path d="M494.0,129.4C495.8,128.7 500.5,126.6 504.5,125.0C508.6,123.4 513.6,121.7 518.5,119.8C523.5,117.9 529.1,115.4 534.3,113.6C539.6,111.9 547.4,110.0 550.1,109.3" fill="none" stroke="#e4e3cf" stroke-width="5.0" opacity="0.45" stroke-linecap="round" filter="url(#b2)"/>
<path d="M491.4,135.9C492.4,136.6 494.8,139.2 497.5,139.9C500.3,140.6 503.4,140.8 508.0,139.9C512.7,139.0 519.7,136.8 525.6,134.7C531.4,132.5 537.2,129.6 543.1,127.1C548.9,124.6 557.7,121.0 560.6,119.8" fill="none" stroke="#5f5f54" stroke-width="4.0" opacity="0.50" stroke-linecap="round" filter="url(#b2)"/>
<path d="M480.0,105.5L480.9,99.4L484.4,94.2L489.7,96.8L494.0,100.3L498.4,95.9L504.5,90.7L511.5,88.0L514.2,92.4L520.3,88.9L522.1,94.2L519.4,98.5L511.5,100.6L502.8,103.8L495.8,105.5L488.8,103.8L484.4,102.9Z" fill="#efc058" opacity="0.92" filter="url(#b1)"/>
<path d="M489.7,101.2L495.8,102.4L502.8,98.9L509.8,94.2L513.3,95.9L508.0,100.3L499.3,104.1L493.2,104.8Z" fill="#f09a3c" opacity="0.85" filter="url(#b2)"/>
<path d="M495.8,80.1L497.9,81.0L498.9,92.4L496.8,90.7Z" fill="#e8b04c" opacity="0.90" filter="url(#b1)"/>
<path d="M480.5,82.4L482.1,81.7L481.8,83.8Z" fill="#e8b04c" opacity="0.90" filter="url(#b1)"/>
<path d="M469.9,88.9L471.3,89.4L470.6,91.2Z" fill="#e8b04c" opacity="0.90" filter="url(#b1)"/>
<path d="M493.2,114.3L497.5,109.9L504.5,112.5L511.5,108.1L518.5,104.6L525.6,102.9L526.4,107.3L534.3,109.9L540.4,108.1L538.7,113.4L544.8,116.0L539.6,120.4L543.1,124.8L534.3,125.7L527.3,127.4L522.9,123.0L516.8,122.2L511.5,119.5L506.3,123.0L504.5,127.4L498.4,130.9L496.7,125.7L495.8,122.2L500.2,118.6L494.9,116.9Z" fill="#efc460" opacity="0.82" filter="url(#b1)"/>
<path d="M497.9,123.9L501.9,117.8L508.0,112.5L516.8,106.4L525.2,103.4L522.9,108.1L515.9,113.4L508.9,118.6L502.8,123.9L499.3,127.4Z" fill="#f09838" opacity="0.90" filter="url(#b1s)"/>
<path d="M500.7,119.2L505.4,114.3L510.7,111.1L509.8,113.9L504.5,118.6Z" fill="#e8562a" opacity="0.85" filter="url(#b1s)"/>
<path d="M458.7,114.9C458.4,112.7 459.1,107.6 459.9,104.0C460.7,100.5 461.8,96.9 463.4,93.5C465.0,90.2 467.0,87.0 469.5,83.9C472.0,80.8 475.1,77.8 478.3,75.1C481.5,72.5 485.0,70.3 488.8,68.1C492.6,66.0 497.0,63.8 501.0,62.4C505.1,61.0 509.8,60.2 513.3,59.7C516.8,59.2 519.1,59.2 522.1,59.4C525.0,59.5 527.9,59.9 530.8,60.6C533.7,61.3 536.6,62.0 539.6,63.4C542.5,64.8 545.4,66.6 548.3,69.0C551.2,71.4 554.5,74.3 557.1,77.8C559.7,81.3 562.3,86.2 564.1,90.0C565.8,93.8 566.7,97.0 567.6,100.5C568.5,104.0 569.3,109.0 569.3,111.0C569.3,113.1 568.8,111.6 567.6,112.8C566.4,113.9 565.0,116.4 562.3,118.0C559.7,119.6 555.6,120.8 551.8,122.4C548.0,124.0 543.9,125.8 539.6,127.7C535.2,129.6 529.9,132.0 525.6,133.8C521.2,135.5 516.8,137.1 513.3,138.2C509.8,139.2 507.5,140.1 504.5,140.3C501.6,140.4 498.1,139.8 495.8,139.0C493.5,138.2 491.9,137.0 490.9,135.5C489.9,134.1 489.6,131.9 489.7,130.3C489.7,128.7 492.1,126.5 491.4,125.9C490.7,125.3 487.8,126.8 485.3,126.8C482.8,126.8 479.4,126.6 476.5,125.9C473.6,125.2 470.2,123.9 467.8,122.4C465.3,120.9 463.2,118.4 461.6,117.1C460.1,115.9 458.9,117.1 458.7,114.9Z" fill="#000" filter="url(#bump1)" style="mix-blend-mode:multiply"/>
<path d="M458.7,114.9C458.4,112.7 459.1,107.6 459.9,104.0C460.7,100.5 461.8,96.9 463.4,93.5C465.0,90.2 467.0,87.0 469.5,83.9C472.0,80.8 475.1,77.8 478.3,75.1C481.5,72.5 485.0,70.3 488.8,68.1C492.6,66.0 497.0,63.8 501.0,62.4C505.1,61.0 509.8,60.2 513.3,59.7C516.8,59.2 519.1,59.2 522.1,59.4C525.0,59.5 527.9,59.9 530.8,60.6C533.7,61.3 536.6,62.0 539.6,63.4C542.5,64.8 545.4,66.6 548.3,69.0C551.2,71.4 554.5,74.3 557.1,77.8C559.7,81.3 562.3,86.2 564.1,90.0C565.8,93.8 566.7,97.0 567.6,100.5C568.5,104.0 569.3,109.0 569.3,111.0C569.3,113.1 568.8,111.6 567.6,112.8C566.4,113.9 565.0,116.4 562.3,118.0C559.7,119.6 555.6,120.8 551.8,122.4C548.0,124.0 543.9,125.8 539.6,127.7C535.2,129.6 529.9,132.0 525.6,133.8C521.2,135.5 516.8,137.1 513.3,138.2C509.8,139.2 507.5,140.1 504.5,140.3C501.6,140.4 498.1,139.8 495.8,139.0C493.5,138.2 491.9,137.0 490.9,135.5C489.9,134.1 489.6,131.9 489.7,130.3C489.7,128.7 492.1,126.5 491.4,125.9C490.7,125.3 487.8,126.8 485.3,126.8C482.8,126.8 479.4,126.6 476.5,125.9C473.6,125.2 470.2,123.9 467.8,122.4C465.3,120.9 463.2,118.4 461.6,117.1C460.1,115.9 458.9,117.1 458.7,114.9Z" fill="url(#gS)"/>
<path d="M458.7,114.9C458.4,112.7 459.1,107.6 459.9,104.0C460.7,100.5 461.8,96.9 463.4,93.5C465.0,90.2 467.0,87.0 469.5,83.9C472.0,80.8 475.1,77.8 478.3,75.1C481.5,72.5 485.0,70.3 488.8,68.1C492.6,66.0 497.0,63.8 501.0,62.4C505.1,61.0 509.8,60.2 513.3,59.7C516.8,59.2 519.1,59.2 522.1,59.4C525.0,59.5 527.9,59.9 530.8,60.6C533.7,61.3 536.6,62.0 539.6,63.4C542.5,64.8 545.4,66.6 548.3,69.0C551.2,71.4 554.5,74.3 557.1,77.8C559.7,81.3 562.3,86.2 564.1,90.0C565.8,93.8 566.7,97.0 567.6,100.5C568.5,104.0 569.3,109.0 569.3,111.0C569.3,113.1 568.8,111.6 567.6,112.8C566.4,113.9 565.0,116.4 562.3,118.0C559.7,119.6 555.6,120.8 551.8,122.4C548.0,124.0 543.9,125.8 539.6,127.7C535.2,129.6 529.9,132.0 525.6,133.8C521.2,135.5 516.8,137.1 513.3,138.2C509.8,139.2 507.5,140.1 504.5,140.3C501.6,140.4 498.1,139.8 495.8,139.0C493.5,138.2 491.9,137.0 490.9,135.5C489.9,134.1 489.6,131.9 489.7,130.3C489.7,128.7 492.1,126.5 491.4,125.9C490.7,125.3 487.8,126.8 485.3,126.8C482.8,126.8 479.4,126.6 476.5,125.9C473.6,125.2 470.2,123.9 467.8,122.4C465.3,120.9 463.2,118.4 461.6,117.1C460.1,115.9 458.9,117.1 458.7,114.9Z" fill="none" stroke="#45453c" stroke-width="4.5" opacity="0.65" filter="url(#b2)" transform="translate(1.4,-2.4)"/>
</g>
</g>
<g transform="translate(0,168)">
<clipPath id="cp4"><path d="M576.7,103.8C577.4,100.2 578.5,97.0 580.1,93.7C581.6,90.3 583.7,86.9 586.0,83.6C588.2,80.2 590.9,76.6 593.5,73.5C596.2,70.4 598.9,67.2 601.9,65.1C605.0,63.0 608.4,61.9 612.0,60.9C615.7,59.9 619.9,59.2 623.8,59.2C627.7,59.2 631.6,59.9 635.6,60.9C639.5,61.9 643.4,63.3 647.3,65.1C651.3,66.9 655.5,69.3 659.1,71.8C662.7,74.3 666.1,77.1 669.2,80.2C672.3,83.3 675.4,86.9 677.6,90.3C679.8,93.7 681.5,97.0 682.6,100.4C683.8,103.8 684.4,108.3 684.7,110.5C684.9,112.7 685.2,111.9 684.3,113.5C683.4,115.2 681.5,118.4 679.3,120.3C677.0,122.1 674.0,123.4 670.9,124.5C667.8,125.5 664.1,126.5 660.8,126.7C657.4,126.8 652.0,124.8 650.7,125.3C649.4,125.8 652.7,127.8 653.2,129.5C653.8,131.2 654.5,133.8 654.1,135.4C653.6,137.0 652.4,138.3 650.7,139.1C649.0,139.8 646.5,140.1 644.0,139.9C641.5,139.7 638.9,138.8 635.6,137.9C632.2,137.0 627.7,135.5 623.8,134.6C619.9,133.6 616.0,133.0 612.0,132.0C608.1,131.1 604.2,129.8 600.3,128.7C596.3,127.5 591.9,126.6 588.5,125.3C585.1,124.0 582.2,122.8 580.1,121.1C578.0,119.4 576.4,118.1 575.9,115.2C575.3,112.3 576.0,107.3 576.7,103.8Z"/></clipPath>
<g clip-path="url(#cp4)" style="isolation:isolate">
<path d="M576.7,103.8C577.4,100.2 578.5,97.0 580.1,93.7C581.6,90.3 583.7,86.9 586.0,83.6C588.2,80.2 590.9,76.6 593.5,73.5C596.2,70.4 598.9,67.2 601.9,65.1C605.0,63.0 608.4,61.9 612.0,60.9C615.7,59.9 619.9,59.2 623.8,59.2C627.7,59.2 631.6,59.9 635.6,60.9C639.5,61.9 643.4,63.3 647.3,65.1C651.3,66.9 655.5,69.3 659.1,71.8C662.7,74.3 666.1,77.1 669.2,80.2C672.3,83.3 675.4,86.9 677.6,90.3C679.8,93.7 681.5,97.0 682.6,100.4C683.8,103.8 684.4,108.3 684.7,110.5C684.9,112.7 685.2,111.9 684.3,113.5C683.4,115.2 681.5,118.4 679.3,120.3C677.0,122.1 674.0,123.4 670.9,124.5C667.8,125.5 664.1,126.5 660.8,126.7C657.4,126.8 652.0,124.8 650.7,125.3C649.4,125.8 652.7,127.8 653.2,129.5C653.8,131.2 654.5,133.8 654.1,135.4C653.6,137.0 652.4,138.3 650.7,139.1C649.0,139.8 646.5,140.1 644.0,139.9C641.5,139.7 638.9,138.8 635.6,137.9C632.2,137.0 627.7,135.5 623.8,134.6C619.9,133.6 616.0,133.0 612.0,132.0C608.1,131.1 604.2,129.8 600.3,128.7C596.3,127.5 591.9,126.6 588.5,125.3C585.1,124.0 582.2,122.8 580.1,121.1C578.0,119.4 576.4,118.1 575.9,115.2C575.3,112.3 576.0,107.3 576.7,103.8Z" fill="#e6e2c3"/>
<path d="M620.4,96.7C622.1,97.7 626.9,101.1 630.5,102.6C634.2,104.2 640.3,105.4 642.3,106.0" fill="none" stroke="#5f5f54" stroke-width="3.0" opacity="0.50" stroke-linecap="round" filter="url(#b2)"/>
<path d="M590.2,118.6C593.0,119.4 601.4,122.1 607.0,123.6C612.6,125.2 618.2,126.4 623.8,127.8C629.4,129.2 636.4,131.2 640.6,132.0C644.8,132.9 647.6,132.7 649.0,132.9" fill="none" stroke="#e4e3cf" stroke-width="5.0" opacity="0.45" stroke-linecap="round" filter="url(#b2)"/>
<path d="M580.1,121.9C582.6,122.9 589.6,126.0 595.2,127.8C600.8,129.6 607.3,131.2 613.7,132.9C620.2,134.6 628.3,136.8 633.9,137.9C639.5,139.0 645.1,139.3 647.3,139.6" fill="none" stroke="#5f5f54" stroke-width="4.0" opacity="0.50" stroke-linecap="round" filter="url(#b2)"/>
<ellipse cx="580.0" cy="108.0" rx="6.0" ry="15.0" fill="#4a4a40" opacity="0.55" filter="url(#b3)" transform="rotate(0 580.0 108.0)"/>
<ellipse cx="625.0" cy="73.0" rx="32.0" ry="9.0" fill="#f4f2dc" opacity="0.45" filter="url(#b5)" transform="rotate(-5 625.0 73.0)"/>
<ellipse cx="668.0" cy="122.0" rx="13.0" ry="4.0" fill="#4f4f45" opacity="0.40" filter="url(#b3)" transform="rotate(-12 668.0 122.0)"/>
<ellipse cx="598.0" cy="121.0" rx="20.0" ry="6.0" fill="#4a4a40" opacity="0.55" filter="url(#b3)" transform="rotate(15 598.0 121.0)"/>
<path d="M576.7,100.1C576.7,101.8 576.0,107.1 576.7,110.2C577.4,113.3 580.2,117.2 580.9,118.6" fill="none" stroke="#5f5f54" stroke-width="6.0" opacity="0.30" stroke-linecap="round" filter="url(#b3)"/>
<path d="M619.6,81.6L625.5,76.5L632.2,73.2L634.7,64.8L640.6,62.2L650.7,64.8L660.8,71.5L670.9,79.9L675.9,86.6L670.9,88.3L664.1,91.7L669.2,96.7L664.1,101.8L657.4,103.4L650.7,106.8L642.3,105.1L633.9,101.8L625.5,96.7L620.4,90.0Z" fill="#efc25c" opacity="0.90" filter="url(#b1)"/>
<path d="M623.0,81.6L630.5,74.9L638.9,68.1L650.7,66.4L662.5,73.2L670.9,81.6L665.8,89.1L660.8,95.0L654.1,100.9L645.7,103.1L635.6,100.1L626.3,94.2Z" fill="#f0913c" opacity="0.90" filter="url(#b2)"/>
<path d="M634.7,84.1L641.5,81.6L646.5,90.8L644.0,97.6L637.2,94.2Z" fill="#ec5626" opacity="0.85" filter="url(#b2)"/>
<path d="M647.3,68.1L657.4,69.8L666.7,78.2L660.8,79.9L652.4,74.9Z" fill="#ee6a2e" opacity="0.80" filter="url(#b2)"/>
<path d="M602.8,81.6L605.6,80.7L606.7,89.1L603.3,89.7Z" fill="#e8c060" opacity="0.90" filter="url(#b1)"/>
<path d="M609.5,83.3L612.9,84.1L616.2,93.3L622.1,101.8L625.5,108.5L618.8,108.5L612.9,99.2L610.0,90.8Z" fill="#e8bf5c" opacity="0.85" filter="url(#b1)"/>
<path d="M606.1,94.7L612.0,91.4L618.8,95.6L625.5,100.6L633.9,104.0L642.3,105.7L648.2,109.9L649.0,115.7L644.8,119.1L648.2,124.1L644.0,127.5L637.2,129.2L630.5,128.3L625.5,125.8L620.4,121.6L613.7,120.8L608.7,119.1L603.6,116.6L604.5,112.4L609.5,109.9L612.9,105.7L609.5,100.6Z" fill="#ecc25e" opacity="0.90" filter="url(#b1)"/>
<path d="M620.4,100.6L627.2,104.0L637.2,109.0L642.3,113.2L635.6,114.9L627.2,110.7L621.3,105.7Z" fill="#f0903a" opacity="0.85" filter="url(#b2)"/>
<path d="M626.3,105.7L632.2,107.3L638.9,112.9L633.9,113.2L628.0,109.5Z" fill="#ea4e24" opacity="0.85" filter="url(#b2)"/>
<path d="M668.4,112.4L670.9,111.5L671.5,114.6L669.2,114.9Z" fill="#e8c060" opacity="0.90" filter="url(#b1)"/>
<path d="M676.8,115.7L680.1,113.2L682.3,117.4L678.4,119.1Z" fill="#e8c060" opacity="0.90" filter="url(#b1)"/>
<path d="M650.7,124.5C652.1,123.9 656.8,122.6 659.1,121.1C661.4,119.6 664.1,117.5 664.5,115.2C664.9,113.0 663.4,109.4 661.6,107.7C659.9,105.9 656.2,105.2 654.1,104.8C652.0,104.4 649.9,105.1 649.0,105.1" fill="none" stroke="#4a4a40" stroke-width="1.7" opacity="0.60" stroke-linecap="round" filter="url(#b1)"/>
<path d="M607.8,85.8C608.8,86.6 611.6,89.1 613.7,90.8C615.8,92.6 617.9,94.6 620.4,96.4C623.0,98.2 626.0,100.3 628.8,101.8C631.6,103.2 634.7,104.4 637.2,105.1C639.8,105.8 642.9,105.8 644.0,106.0" fill="none" stroke="#6a5a38" stroke-width="2.8" opacity="0.60" stroke-linecap="round" filter="url(#b1s)"/>
<path d="M576.7,103.8C577.4,100.2 578.5,97.0 580.1,93.7C581.6,90.3 583.7,86.9 586.0,83.6C588.2,80.2 590.9,76.6 593.5,73.5C596.2,70.4 598.9,67.2 601.9,65.1C605.0,63.0 608.4,61.9 612.0,60.9C615.7,59.9 619.9,59.2 623.8,59.2C627.7,59.2 631.6,59.9 635.6,60.9C639.5,61.9 643.4,63.3 647.3,65.1C651.3,66.9 655.5,69.3 659.1,71.8C662.7,74.3 666.1,77.1 669.2,80.2C672.3,83.3 675.4,86.9 677.6,90.3C679.8,93.7 681.5,97.0 682.6,100.4C683.8,103.8 684.4,108.3 684.7,110.5C684.9,112.7 685.2,111.9 684.3,113.5C683.4,115.2 681.5,118.4 679.3,120.3C677.0,122.1 674.0,123.4 670.9,124.5C667.8,125.5 664.1,126.5 660.8,126.7C657.4,126.8 652.0,124.8 650.7,125.3C649.4,125.8 652.7,127.8 653.2,129.5C653.8,131.2 654.5,133.8 654.1,135.4C653.6,137.0 652.4,138.3 650.7,139.1C649.0,139.8 646.5,140.1 644.0,139.9C641.5,139.7 638.9,138.8 635.6,137.9C632.2,137.0 627.7,135.5 623.8,134.6C619.9,133.6 616.0,133.0 612.0,132.0C608.1,131.1 604.2,129.8 600.3,128.7C596.3,127.5 591.9,126.6 588.5,125.3C585.1,124.0 582.2,122.8 580.1,121.1C578.0,119.4 576.4,118.1 575.9,115.2C575.3,112.3 576.0,107.3 576.7,103.8Z" fill="#000" filter="url(#bump2)" style="mix-blend-mode:multiply"/>
<path d="M576.7,103.8C577.4,100.2 578.5,97.0 580.1,93.7C581.6,90.3 583.7,86.9 586.0,83.6C588.2,80.2 590.9,76.6 593.5,73.5C596.2,70.4 598.9,67.2 601.9,65.1C605.0,63.0 608.4,61.9 612.0,60.9C615.7,59.9 619.9,59.2 623.8,59.2C627.7,59.2 631.6,59.9 635.6,60.9C639.5,61.9 643.4,63.3 647.3,65.1C651.3,66.9 655.5,69.3 659.1,71.8C662.7,74.3 666.1,77.1 669.2,80.2C672.3,83.3 675.4,86.9 677.6,90.3C679.8,93.7 681.5,97.0 682.6,100.4C683.8,103.8 684.4,108.3 684.7,110.5C684.9,112.7 685.2,111.9 684.3,113.5C683.4,115.2 681.5,118.4 679.3,120.3C677.0,122.1 674.0,123.4 670.9,124.5C667.8,125.5 664.1,126.5 660.8,126.7C657.4,126.8 652.0,124.8 650.7,125.3C649.4,125.8 652.7,127.8 653.2,129.5C653.8,131.2 654.5,133.8 654.1,135.4C653.6,137.0 652.4,138.3 650.7,139.1C649.0,139.8 646.5,140.1 644.0,139.9C641.5,139.7 638.9,138.8 635.6,137.9C632.2,137.0 627.7,135.5 623.8,134.6C619.9,133.6 616.0,133.0 612.0,132.0C608.1,131.1 604.2,129.8 600.3,128.7C596.3,127.5 591.9,126.6 588.5,125.3C585.1,124.0 582.2,122.8 580.1,121.1C578.0,119.4 576.4,118.1 575.9,115.2C575.3,112.3 576.0,107.3 576.7,103.8Z" fill="url(#gS)"/>
<path d="M576.7,103.8C577.4,100.2 578.5,97.0 580.1,93.7C581.6,90.3 583.7,86.9 586.0,83.6C588.2,80.2 590.9,76.6 593.5,73.5C596.2,70.4 598.9,67.2 601.9,65.1C605.0,63.0 608.4,61.9 612.0,60.9C615.7,59.9 619.9,59.2 623.8,59.2C627.7,59.2 631.6,59.9 635.6,60.9C639.5,61.9 643.4,63.3 647.3,65.1C651.3,66.9 655.5,69.3 659.1,71.8C662.7,74.3 666.1,77.1 669.2,80.2C672.3,83.3 675.4,86.9 677.6,90.3C679.8,93.7 681.5,97.0 682.6,100.4C683.8,103.8 684.4,108.3 684.7,110.5C684.9,112.7 685.2,111.9 684.3,113.5C683.4,115.2 681.5,118.4 679.3,120.3C677.0,122.1 674.0,123.4 670.9,124.5C667.8,125.5 664.1,126.5 660.8,126.7C657.4,126.8 652.0,124.8 650.7,125.3C649.4,125.8 652.7,127.8 653.2,129.5C653.8,131.2 654.5,133.8 654.1,135.4C653.6,137.0 652.4,138.3 650.7,139.1C649.0,139.8 646.5,140.1 644.0,139.9C641.5,139.7 638.9,138.8 635.6,137.9C632.2,137.0 627.7,135.5 623.8,134.6C619.9,133.6 616.0,133.0 612.0,132.0C608.1,131.1 604.2,129.8 600.3,128.7C596.3,127.5 591.9,126.6 588.5,125.3C585.1,124.0 582.2,122.8 580.1,121.1C578.0,119.4 576.4,118.1 575.9,115.2C575.3,112.3 576.0,107.3 576.7,103.8Z" fill="none" stroke="#45453c" stroke-width="4.5" opacity="0.65" filter="url(#b2)" transform="translate(1.4,-2.4)"/>
</g>
</g>
</g>
</svg></body></html>
